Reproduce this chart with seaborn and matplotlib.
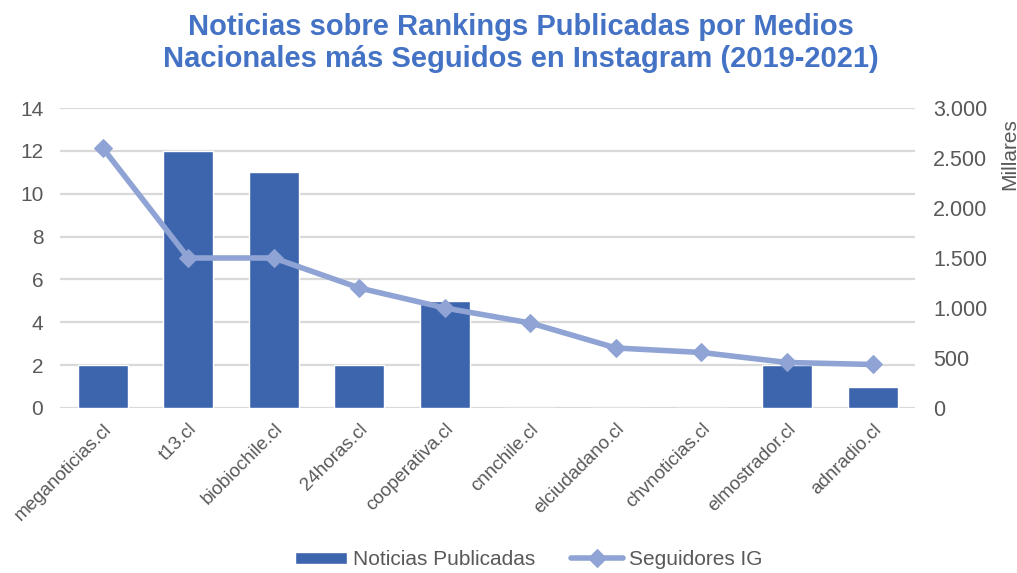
import pandas as pd
import matplotlib
matplotlib.use("Agg")
import matplotlib.pyplot as plt
import seaborn as sns
from matplotlib.ticker import FuncFormatter

# datos del grafico
medios = ["meganoticias.cl", "t13.cl", "biobiochile.cl", "24horas.cl", "cooperativa.cl",
          "cnnchile.cl", "elciudadano.cl", "chvnoticias.cl", "elmostrador.cl", "adnradio.cl"]
noticias = [2, 12, 11, 2, 5, 0, 0, 0, 2, 1]
seguidores_miles = [2600, 1500, 1500, 1200, 1000, 850, 600, 555, 455, 435]

df = pd.DataFrame({"Medio": medios, "Noticias": noticias, "Seguidores": seguidores_miles})

sns.set_theme(style="white")
plt.rcParams["font.family"] = ["Liberation Sans", "DejaVu Sans"]

BAR = "#3D65AD"
LINE = "#8FA4D4"
TXT = "#595959"

fig = plt.figure(figsize=(10.17, 5.73), dpi=100)
ax = fig.add_axes([0.059, 0.288, 0.841, 0.5235])

sns.barplot(data=df, x="Medio", y="Noticias", color=BAR, width=0.585,
            saturation=1, ax=ax, label="Noticias Publicadas")
ax.set_ylim(0, 14)
ax.set_yticks(range(0, 15, 2))
ax.yaxis.grid(True, color="#D9D9D9", linewidth=1.6)
ax.set_axisbelow(True)
ax.set_xlabel("")
ax.set_ylabel("")
for s in ax.spines.values():
    s.set_visible(False)
ax.tick_params(axis="y", labelsize=15, colors=TXT, length=0, pad=12)
ax.tick_params(axis="x", labelsize=13.5, colors=TXT, length=0, pad=9)
plt.setp(ax.get_xticklabels(), rotation=45, ha="right", rotation_mode="anchor")
ax.set_xlim(-0.5, len(medios) - 0.5)

ax2 = ax.twinx()
sns.lineplot(data=df, x="Medio", y="Seguidores", color=LINE, linewidth=4,
             marker="D", markersize=9, markeredgecolor=LINE, sort=False,
             ax=ax2, label="Seguidores IG", legend=False)
ax2.set_ylim(0, 3000)
ax2.set_yticks(range(0, 3001, 500))
ax2.yaxis.set_major_formatter(FuncFormatter(lambda v, p: f"{int(v):,}".replace(",", ".")))
ax2.tick_params(axis="y", labelsize=15.5, colors=TXT, length=0, pad=13)
ax2.set_xlabel("")
ax2.set_ylabel("Millares", fontsize=15, color=TXT)
ax2.yaxis.set_label_coords(1.099, 0.847)
for s in ax2.spines.values():
    s.set_visible(False)
ax2.grid(False)

h1, l1 = ax.get_legend_handles_labels()
h2, l2 = ax2.get_legend_handles_labels()
if ax.get_legend():
    ax.get_legend().remove()
fig.legend(h1 + h2, l1 + l2, loc="center", bbox_to_anchor=(0.52, 0.023), ncol=2,
           frameon=False, fontsize=15, labelcolor=TXT, handlelength=2.5,
           handleheight=0.55, handletextpad=0.3, columnspacing=1.7)

fig.suptitle("Noticias sobre Rankings Publicadas por Medios\nNacionales más Seguidos en Instagram (2019-2021)",
             x=0.512, y=0.978, fontsize=21, fontweight="bold", color="#4472C4", linespacing=1.22)

fig.savefig("out.png", dpi=100)
